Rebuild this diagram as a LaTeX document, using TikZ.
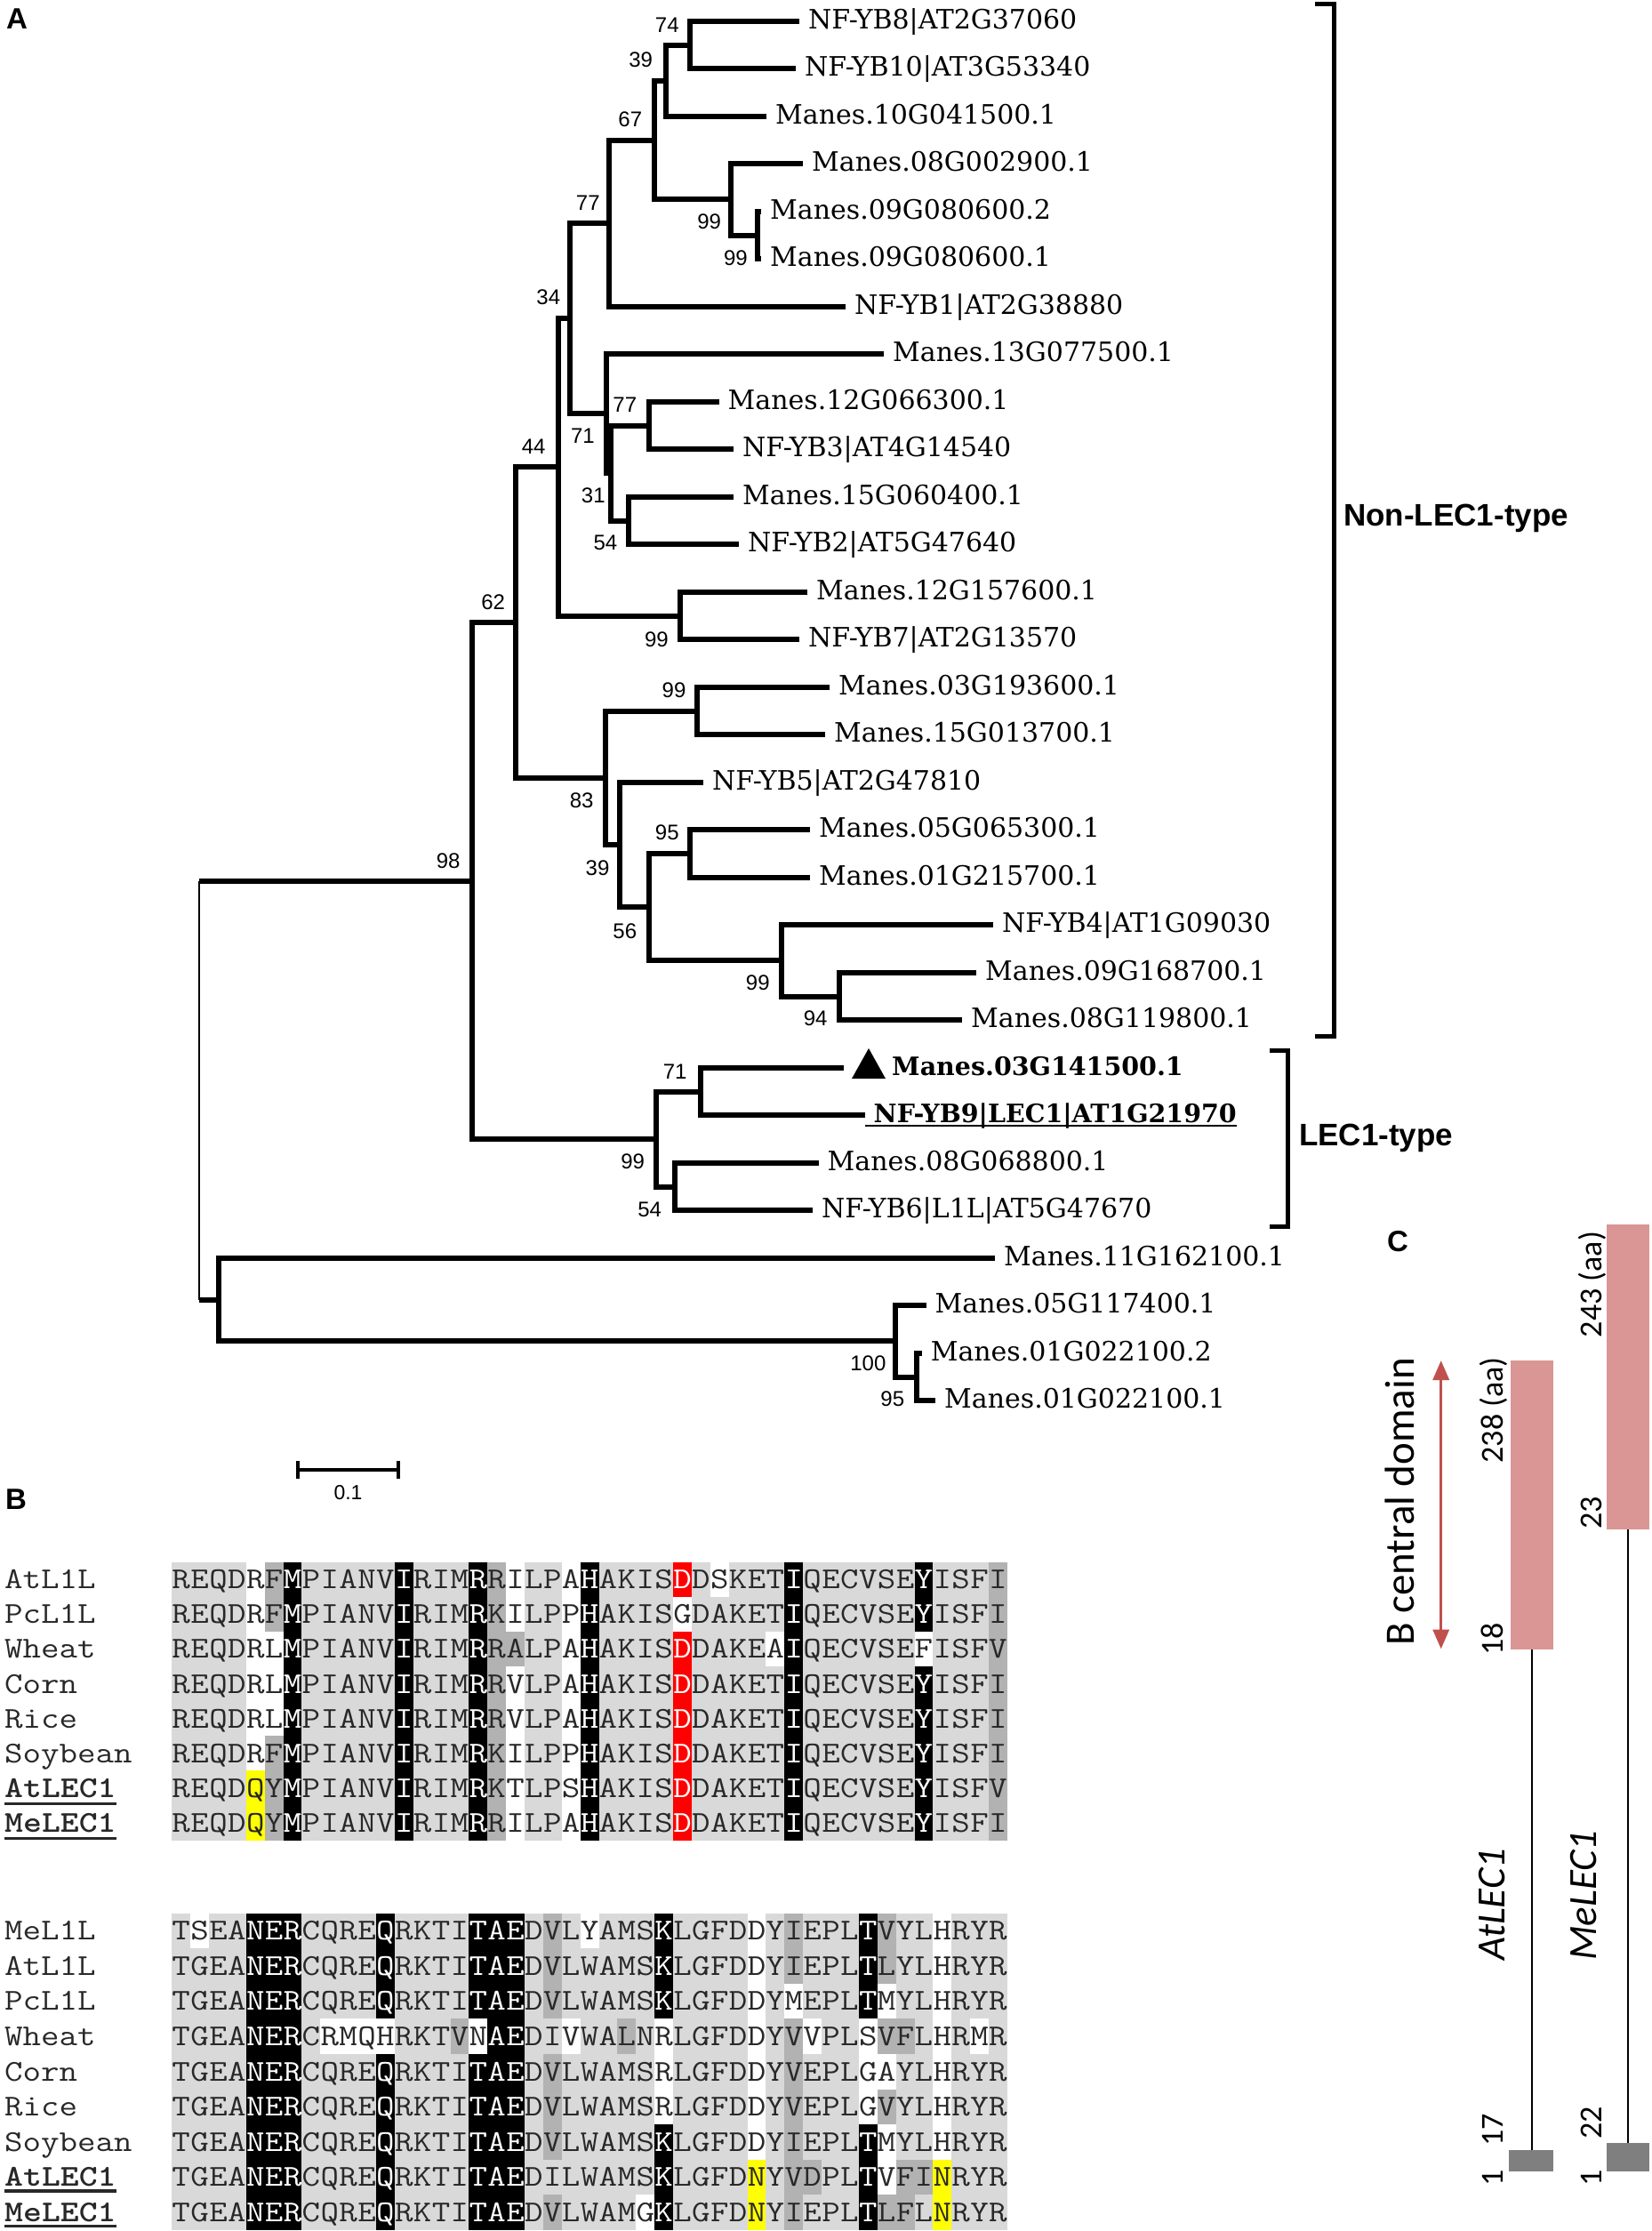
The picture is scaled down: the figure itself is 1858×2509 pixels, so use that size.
\documentclass[tikz,border=0pt]{standalone}
\usepackage{fontspec}
\usetikzlibrary{arrows.meta}
\newfontfamily\treefont{DejaVu Serif}
\newfontfamily\sansfont{Liberation Sans}
\newfontfamily\calfont{Carlito}

\definecolor{alng}{RGB}{217,217,217}
\definecolor{alnd}{RGB}{178,178,178}
\definecolor{alnk}{RGB}{0,0,0}
\definecolor{alnw}{RGB}{255,255,255}
\definecolor{alnr}{RGB}{255,0,0}
\definecolor{alny}{RGB}{255,255,0}
\definecolor{alntext}{RGB}{40,40,40}
\colorlet{alnfgg}{alntext}
\colorlet{alnfgd}{alntext}
\colorlet{alnfgw}{alntext}
\colorlet{alnfgy}{alntext}
\colorlet{alnfgk}{white}
\colorlet{alnfgr}{white}
\definecolor{barpink}{RGB}{217,150,148}
\definecolor{bargray}{RGB}{127,127,127}
\definecolor{domred}{RGB}{192,80,77}

\tikzset{
  branch/.style = {line width=6pt},
  rootline/.style = {line width=2pt},
  bracket/.style = {line width=5pt},
  leaf/.style = {anchor=west, inner xsep=10pt, inner ysep=0pt, text height=21pt, text depth=4pt,
    font=\treefont\fontsize{30}{36}\selectfont},
  boldleaf/.style = {leaf, font=\treefont\bfseries\fontsize{28.5}{34}\selectfont},
  boot/.style = {inner sep=0pt, font=\sansfont\fontsize{24}{28}\selectfont},
  clade/.style = {anchor=base west, inner sep=0pt, font=\sansfont\bfseries\fontsize{35}{40}\selectfont},
  panel/.style = {anchor=base west, inner sep=0pt, font=\sansfont\bfseries\fontsize{33}{38}\selectfont},
  alnchar/.style = {inner sep=0pt, anchor=base, xscale=1.17, font=\ttfamily\fontsize{34}{38}\selectfont},
  alnname/.style = {inner sep=0pt, anchor=base west, xscale=1.17, text=alntext, font=\ttfamily\fontsize{34}{38}\selectfont},
  boldname/.style = {alnname, font=\ttfamily\bfseries\fontsize{34}{38}\selectfont},
  alnunder/.style = {line width=3.5pt, alntext},
  numlab/.style = {rotate=90, inner sep=0pt, font=\calfont\fontsize{36}{40}\selectfont},
  genelab/.style = {rotate=90, anchor=base west, inner sep=0pt, font=\calfont\itshape\fontsize{45}{50}\selectfont},
  domarrow/.style = {line width=3.5pt, domred, {Triangle[width=18pt,length=22pt]}-{Triangle[width=18pt,length=22pt]}},
  protline/.style = {line width=2pt}
}

% one alignment row: id, top, residues, shading codes
\makeatletter
\newcount\alncol
\newcommand\alnrow[4]{%
  \global\alncol=0
  \def\alnid{#1}\def\alntop{#2}%
  \aln@step#3\relax#4\relax}
\def\aln@step#1#2\relax#3#4\relax{%
  \alncell{#1}{#3}%
  \global\advance\alncol by 1
  \ifx\relax#2\relax\expandafter\@gobble\else\expandafter\@firstofone\fi
  {\aln@step#2\relax#4\relax}}
\newcommand\alncell[2]{%
  \fill[aln#2] ({193.3+20.88*\the\alncol},\alntop) rectangle ++(21.2,39.6);
  \node[alnchar, text=alnfg#2] (\alnid-\the\alncol) at ({193.3+20.88*(\the\alncol+0.5)},{\alntop+30}) {#1};}
\makeatother

\begin{document}
\begin{tikzpicture}[x=1pt, y=-1pt]
\useasboundingbox (0,0) rectangle (1858,2509);

% panel letters
\node[panel] (pA) at (7,32) {A};
\node[panel] (pB) at (6,1697) {B};
\node[panel] (pC) at (1560,1407) {C};

% ---- A: tree ----
\coordinate (root) at (224.2,1226);
\coordinate (n98) at (530.8,990.5);
\coordinate (n62) at (579.8,700);
\coordinate (n44) at (627.7,525.3);
\coordinate (n34) at (640.6,358.1);
\coordinate (n77) at (685,251.1);
\coordinate (n67) at (735.5,157.5);
\coordinate (n39) at (748.5,90.6);
\coordinate (n74) at (776,50.5);
\coordinate (n99a) at (821.6,224.3);
\coordinate (n99b) at (852.2,264.5);
\coordinate (n71) at (682.3,465.1);
\coordinate (n31) at (687,532);
\coordinate (n77b) at (729.6,478.5);
\coordinate (n54) at (707.1,585.5);
\coordinate (n99c) at (765,692.5);
\coordinate (n83) at (680.8,874.7);
\coordinate (n99d) at (784,799.5);
\coordinate (n39b) at (697,949.9);
\coordinate (n95) at (775.8,960);
\coordinate (n56) at (729.6,1020.1);
\coordinate (n99e) at (879.2,1080.3);
\coordinate (n94) at (944,1120.5);
\coordinate (n99f) at (738.4,1281);
\coordinate (n71b) at (787.7,1227.5);
\coordinate (n54b) at (759.2,1334.5);
\coordinate (nout) at (246.2,1461.5);
\coordinate (n100) at (1007,1508.3);
\coordinate (n95b) at (1031.3,1548.5);

% leaves
\node[leaf] (t0) at (899,23.7) {NF-YB8|AT2G37060};
\node[leaf] (t1) at (895,77.2) {NF-YB10|AT3G53340};
\node[leaf] (t2) at (862,130.7) {Manes.10G041500.1};
\node[leaf] (t3) at (903,184.2) {Manes.08G002900.1};
\node[leaf] (t4) at (856,237.7) {Manes.09G080600.2};
\node[leaf] (t5) at (856,291.2) {Manes.09G080600.1};
\node[leaf] (t6) at (951,344.7) {NF-YB1|AT2G38880};
\node[leaf] (t7) at (994,398.2) {Manes.13G077500.1};
\node[leaf] (t8) at (808.5,451.7) {Manes.12G066300.1};
\node[leaf] (t9) at (825,505.2) {NF-YB3|AT4G14540};
\node[leaf] (t10) at (825,558.7) {Manes.15G060400.1};
\node[leaf] (t11) at (831,612.2) {NF-YB2|AT5G47640};
\node[leaf] (t12) at (908,665.7) {Manes.12G157600.1};
\node[leaf] (t13) at (899,719.2) {NF-YB7|AT2G13570};
\node[leaf] (t14) at (933,772.7) {Manes.03G193600.1};
\node[leaf] (t15) at (928,826.2) {Manes.15G013700.1};
\node[leaf] (t16) at (791,879.7) {NF-YB5|AT2G47810};
\node[leaf] (t17) at (911,933.2) {Manes.05G065300.1};
\node[leaf] (t18) at (911,986.7) {Manes.01G215700.1};
\node[leaf] (t19) at (1117,1040.2) {NF-YB4|AT1G09030};
\node[leaf] (t20) at (1098,1093.7) {Manes.09G168700.1};
\node[leaf] (t21) at (1082,1147.2) {Manes.08G119800.1};
\coordinate (e22) at (949,1200.7);
\node[boldleaf] (t22) at (993,1200.7) {Manes.03G141500.1};
\node[boldleaf] (t23) at (972.5,1254.2) {NF-YB9|LEC1|AT1G21970};
\node[leaf] (t24) at (920.5,1307.7) {Manes.08G068800.1};
\node[leaf] (t25) at (914,1361.2) {NF-YB6|L1L|AT5G47670};
\node[leaf] (t26) at (1119,1414.7) {Manes.11G162100.1};
\node[leaf] (t27) at (1041.5,1468.2) {Manes.05G117400.1};
\node[leaf] (t28) at (1036.6,1521.7) {Manes.01G022100.2};
\node[leaf] (t29) at (1052,1575.2) {Manes.01G022100.1};

% marker and underline
\fill (977,1179) -- (958,1213) -- (996,1213) -- cycle;
\draw[line width=2.5pt] ([yshift=1pt]t23.south west) -- ([xshift=-10pt,yshift=1pt]t23.south east);

% branches
\draw[rootline] (root |- n98) -- (root |- nout);
\draw[branch] (root |- n98) -- (n98);
\draw[branch] (root |- nout) -- (nout);
\foreach \p/\c in {n98/n62, n98/n99f, n62/n44, n62/n83, n44/n34, n44/n99c,
    n34/n77, n34/n71, n77/n67, n77/t6, n67/n39, n67/n99a, n39/n74, n39/t2,
    n74/t0, n74/t1, n99a/t3, n99a/n99b, n99b/t4, n99b/t5, n71/t7, n71/n31,
    n31/n77b, n31/n54, n77b/t8, n77b/t9, n54/t10, n54/t11, n99c/t12, n99c/t13,
    n83/n99d, n83/n39b, n99d/t14, n99d/t15, n39b/t16, n39b/n56, n56/n95, n56/n99e,
    n95/t17, n95/t18, n99e/t19, n99e/n94, n94/t20, n94/t21, n99f/n71b, n99f/n54b,
    n71b/e22, n71b/t23, n54b/t24, n54b/t25, nout/t26, nout/n100, n100/t27, n100/n95b,
    n95b/t28, n95b/t29}
  \draw[branch] (\p) |- (\c);

% bootstrap values
\node[boot] (bs74) at (750.3,28.6) {74};
\node[boot] (bs39) at (720.6,67.3) {39};
\node[boot] (bs67) at (708.8,134.7) {67};
\node[boot] (bs99a) at (797.7,249) {99};
\node[boot] (bs99b) at (827.4,289.8) {99};
\node[boot] (bs77) at (661.3,228.6) {77};
\node[boot] (bs34) at (616.8,334.7) {34};
\node[boot] (bs77b) at (702.8,455) {77};
\node[boot] (bs71) at (655.4,489.8) {71};
\node[boot] (bs31) at (667.3,557.1) {31};
\node[boot] (bs54) at (680.9,610.2) {54};
\node[boot] (bs44) at (600.2,502) {44};
\node[boot] (bs62) at (554.6,677.3) {62};
\node[boot] (bs99c) at (738.4,718.9) {99};
\node[boot] (bs99d) at (758,776.2) {99};
\node[boot] (bs83) at (654.2,900.7) {83};
\node[boot] (bs95) at (750.3,936.3) {95};
\node[boot] (bs39b) at (672,975.9) {39};
\node[boot] (bs98) at (504.2,968) {98};
\node[boot] (bs56) at (702.8,1047) {56};
\node[boot] (bs99e) at (852.3,1105.6) {99};
\node[boot] (bs94) at (917.1,1145.7) {94};
\node[boot] (bs71b) at (759.2,1205) {71};
\node[boot] (bs99f) at (711.7,1306.7) {99};
\node[boot] (bs54b) at (730.7,1360) {54};
\node[boot] (bs100) at (976.4,1533.3) {100};
\node[boot] (bs95b) at (1003.8,1573.3) {95};

% clade brackets
\draw[bracket] (1479,4.9) -| (1500.5,1165.5) -- (1479,1165.5);
\node[clade] (nonlec) at (1511,591.8) {Non-LEC1-type};
\draw[bracket] (1428.4,1181) -| (1448.6,1379) -- (1428.4,1379);
\node[clade] (lec) at (1460.8,1288.3) {LEC1-type};

% scale bar
\draw[line width=4pt] (335,1642.8) -- (335,1662.7) (335,1652.7) -- (448,1652.7) (448,1642.8) -- (448,1662.7);
\node[boot, anchor=base, font=\sansfont\fontsize{23}{27}\selectfont] (sbl) at (391.5,1686) {0.1};

% ---- B: alignment ----
\node[alnname] (p0n) at (5,1786.7) {AtL1L};
\node[alnname] (p1n) at (5,1825.8) {PcL1L};
\node[alnname] (p2n) at (5,1864.9) {Wheat};
\node[alnname] (p3n) at (5,1904.1) {Corn};
\node[alnname] (p4n) at (5,1943.2) {Rice};
\node[alnname] (p5n) at (5,1982.3) {Soybean};
\node[boldname] (p6n) at (5,2021.4) {AtLEC1};
\node[boldname] (p7n) at (5,2060.5) {MeLEC1};
\draw[alnunder] ([yshift=-7pt]p6n.base west) -- ([yshift=-7pt]p6n.base east);
\draw[alnunder] ([yshift=-7pt]p7n.base west) -- ([yshift=-7pt]p7n.base east);

\alnrow{p0}{1756.7}{REQDRFMPIANVIRIMRRILPAHAKISDDSKETIQECVSEYISFI}{ggggwdkgggggkgggkdwggwkggggrgwgggkggggggkgggd}
\alnrow{p1}{1795.8}{REQDRFMPIANVIRIMRKILPPHAKISGDAKETIQECVSEYISFI}{ggggwdkgggggkgggkdwggwkggggwgggggkggggggkgggd}
\alnrow{p2}{1834.9}{REQDRLMPIANVIRIMRRALPAHAKISDDAKEAIQECVSEFISFV}{ggggwwkgggggkgggkddggwkggggrggggwkggggggwgggd}
\alnrow{p3}{1874.1}{REQDRLMPIANVIRIMRRVLPAHAKISDDAKETIQECVSEYISFI}{ggggwwkgggggkgggkdwggwkggggrgggggkggggggkgggd}
\alnrow{p4}{1913.2}{REQDRLMPIANVIRIMRRVLPAHAKISDDAKETIQECVSEYISFI}{ggggwwkgggggkgggkdwggwkggggrgggggkggggggkgggd}
\alnrow{p5}{1952.3}{REQDRFMPIANVIRIMRKILPPHAKISDDAKETIQECVSEYISFI}{ggggwdkgggggkgggkdwggwkggggrgggggkggggggkgggd}
\alnrow{p6}{1991.4}{REQDQYMPIANVIRIMRKTLPSHAKISDDAKETIQECVSEYISFV}{ggggydkgggggkgggkdwggwkggggrgggggkggggggkgggd}
\alnrow{p7}{2030.5}{REQDQYMPIANVIRIMRRILPAHAKISDDAKETIQECVSEYISFI}{ggggydkgggggkgggkdwggwkggggrgggggkggggggkgggd}

\node[alnname] (q0n) at (5,2181.7) {MeL1L};
\node[alnname] (q1n) at (5,2221.3) {AtL1L};
\node[alnname] (q2n) at (5,2260.9) {PcL1L};
\node[alnname] (q3n) at (5,2300.4) {Wheat};
\node[alnname] (q4n) at (5,2340.0) {Corn};
\node[alnname] (q5n) at (5,2379.6) {Rice};
\node[alnname] (q6n) at (5,2419.2) {Soybean};
\node[boldname] (q7n) at (5,2458.8) {AtLEC1};
\node[boldname] (q8n) at (5,2498.3) {MeLEC1};
\draw[alnunder] ([yshift=-5pt]q7n.base west) -- ([yshift=-5pt]q7n.base east);
\draw[alnunder] ([yshift=-5pt]q8n.base west) -- ([yshift=-5pt]q8n.base east);

\alnrow{q0}{2151.7}{TSEANERCQREQRKTITAEDVLYAMSKLGFDDYIEPLTVYLHRYR}{gwggkkkggggkggggkkkgdgwgggkggggwgdgggkdggwggg}
\alnrow{q1}{2191.3}{TGEANERCQREQRKTITAEDVLWAMSKLGFDDYIEPLTLYLHRYR}{ggggkkkggggkggggkkkgdgggggkggggwgdgggkdggwggg}
\alnrow{q2}{2230.9}{TGEANERCQREQRKTITAEDVLWAMSKLGFDDYMEPLTMYLHRYR}{ggggkkkggggkggggkkkgdgggggkggggwgwgggkwggwggg}
\alnrow{q3}{2270.4}{TGEANERCRMQHRKTVNAEDIVWALNRLGFDDYVVPLSVFLHRMR}{ggggkkkgwwwwgggdwkkggwggdgwggggwgdwggwddgwgwg}
\alnrow{q4}{2310.0}{TGEANERCQREQRKTITAEDVLWAMSRLGFDDYVEPLGAYLHRYR}{ggggkkkggggkggggkkkgdgggggwggggwgdgggwwggwggg}
\alnrow{q5}{2349.6}{TGEANERCQREQRKTITAEDVLWAMSRLGFDDYVEPLGVYLHRYR}{ggggkkkggggkggggkkkgdgggggwggggwgdgggwdggwggg}
\alnrow{q6}{2389.2}{TGEANERCQREQRKTITAEDVLWAMSKLGFDDYIEPLTMYLHRYR}{ggggkkkggggkggggkkkgdgggggkggggwgdgggkwggwggg}
\alnrow{q7}{2428.8}{TGEANERCQREQRKTITAEDILWAMSKLGFDNYVDPLTVFINRYR}{ggggkkkggggkggggkkkgggggggkggggygddggkwddyggg}
\alnrow{q8}{2468.3}{TGEANERCQREQRKTITAEDVLWAMGKLGFDNYIEPLTLFLNRYR}{ggggkkkggggkggggkkkgdggggwkggggygdgggkddgyggg}

% ---- C: protein structure ----
\coordinate (domtop) at (1620.7,1530);
\coordinate (dombot) at (1620.7,1854.5);
\draw[domarrow] (domtop) -- (dombot);
\node[numlab, anchor=base west] (dom) at (1590,1851) {\fontsize{47}{52}\selectfont B central domain};

\fill[barpink] (1699.3,1530) rectangle (1746.7,1854.5);
\draw[protline] (1722.7,1854.5) -- (1722.7,2417.6);
\fill[bargray] (1697,2417.6) rectangle (1746.7,2442);
\fill[barpink] (1807,1377) rectangle (1855,1720);
\draw[protline] (1831,1720) -- (1831,2410);
\fill[bargray] (1807,2410) rectangle (1855,2442);

\node[numlab, anchor=base east] (c238) at (1690,1526) {238 (aa)};
\node[numlab, anchor=base west] (c18) at (1690,1862) {18};
\node[numlab, anchor=base west] (c17) at (1690,2414) {17};
\node[numlab, anchor=base west] (c1a) at (1690,2458.6) {1};
\node[numlab, anchor=base east] (c243) at (1801,1384.7) {243 (aa)};
\node[numlab, anchor=base west] (c23) at (1801,1720) {23};
\node[numlab, anchor=base west] (c22) at (1801,2406) {22};
\node[numlab, anchor=base west] (c1b) at (1801,2458.6) {1};
\node[genelab] (gat) at (1692,2205) {AtLEC1};
\node[genelab] (gme) at (1795,2205) {MeLEC1};
\end{tikzpicture}
\end{document}
